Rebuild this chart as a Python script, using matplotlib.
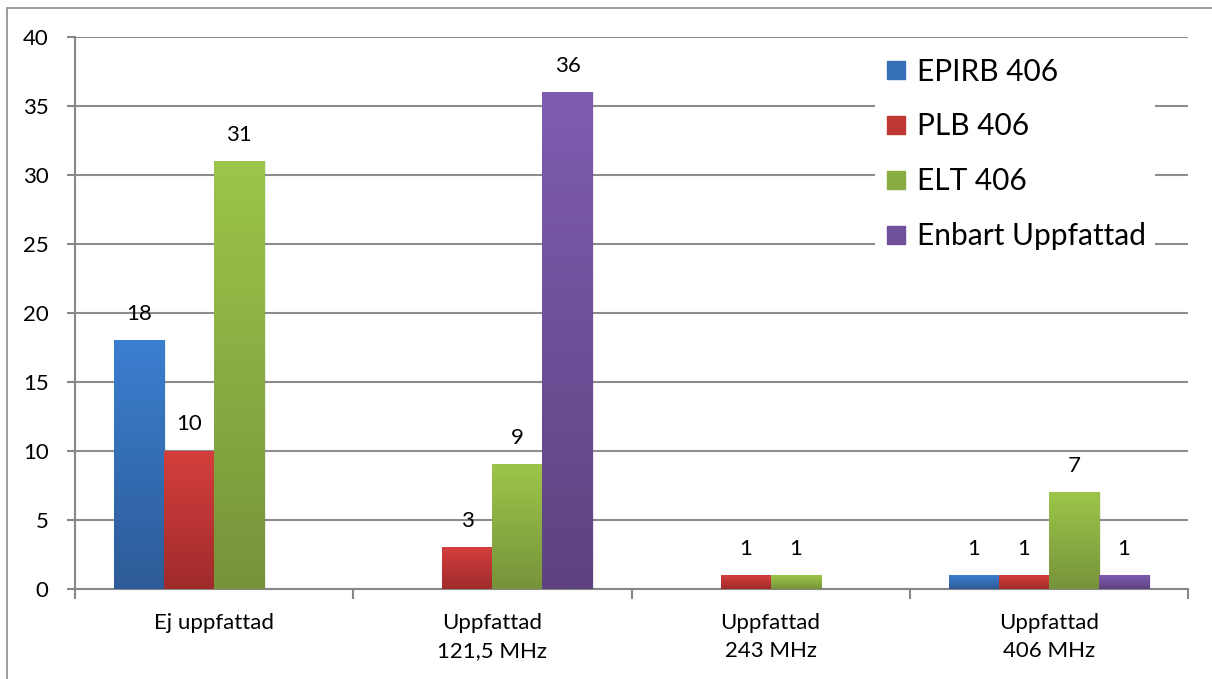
import matplotlib.pyplot as plt
import numpy as np
from matplotlib.colors import LinearSegmentedColormap
from matplotlib.lines import Line2D
from matplotlib.patches import Rectangle

# data
categories = ['Ej uppfattad', 'Uppfattad\n121,5 MHz', 'Uppfattad\n243 MHz', 'Uppfattad\n406 MHz']
series = ['EPIRB 406', 'PLB 406', 'ELT 406', 'Enbart Uppfattad']
epirb = [18, 0, 0, 1]
plb = [10, 3, 1, 1]
elt = [31, 9, 1, 7]
enbart = [0, 36, 0, 1]
values = [epirb, plb, elt, enbart]

# top / bottom colours of the gradient fill
tops = ['#3b7fd0', '#d43f3d', '#9cc649', '#7f5cb0']
bottoms = ['#2d5b97', '#a02b2b', '#77933b', '#5e4280']
mids = ['#3570b8', '#c03836', '#8aad43', '#70509a']

plt.rcParams['font.family'] = ['Lato', 'DejaVu Sans']

fig = plt.figure(figsize=(12.12, 6.79), dpi=100)
ax = fig.add_axes([75 / 1212, 90 / 679, 1113 / 1212, 552 / 679])

# frame around the chart
fig.patches.append(Rectangle((7 / 1212, -0.5), 2, 1.5 - 8 / 679, transform=fig.transFigure,
                             fill=False, edgecolor='#8c8c8c', linewidth=1.2, zorder=0))

width = 0.18
n = len(series)
x = np.arange(len(categories))
for i, vals in enumerate(values):
    cmap = LinearSegmentedColormap.from_list('g%d' % i, [bottoms[i], tops[i]])
    grad = np.linspace(0, 1, 256).reshape(-1, 1)
    for j, v in enumerate(vals):
        if v == 0:
            continue
        x0 = x[j] + (i - n / 2) * width
        # soft shadow
        ax.add_patch(Rectangle((x0 + 0.006, 0), width, v, facecolor='#000000', alpha=0.08,
                               linewidth=0, zorder=2))
        ax.imshow(grad, cmap=cmap, origin='lower', aspect='auto',
                  extent=[x0, x0 + width, 0, v], zorder=3, interpolation='bilinear')
        ax.text(x0 + width / 2, v + 1.2, str(v), ha='center', va='bottom', fontsize=16, zorder=4)

ax.set_xlim(-0.5, 3.5)
ax.set_ylim(0, 40)
ax.set_yticks(np.arange(0, 41, 5))
ax.set_xticks(np.arange(-0.5, 3.6, 1))
ax.set_xticklabels([])
ax.set_xticks(x, minor=True)
ax.set_xticklabels(categories, minor=True, fontsize=16, linespacing=1.5)
ax.tick_params(axis='x', which='minor', length=0, pad=17)
ax.tick_params(axis='x', which='major', length=7, width=1.5, color='#878787')
ax.tick_params(axis='y', length=6, width=1.5, color='#878787', pad=13, labelsize=16)
ax.yaxis.grid(True, color='#8c8c8c', linewidth=1.5, zorder=0)
ax.set_axisbelow(True)

for s in ['top', 'right']:
    ax.spines[s].set_visible(False)
for s in ['left', 'bottom']:
    ax.spines[s].set_color('#878787')
    ax.spines[s].set_linewidth(1.5)

handles = [Line2D([], [], marker='s', linestyle='none', markersize=13,
                  markerfacecolor=mids[i], markeredgecolor=mids[i]) for i in range(n)]
leg = ax.legend(handles, series, loc='upper left', bbox_to_anchor=(800 / 1113, 0.979),
                frameon=True, fontsize=21.5, labelspacing=0.9, handlelength=0.8,
                handletextpad=0.3, borderpad=0.3, borderaxespad=0)
leg.get_frame().set_facecolor('white')
leg.get_frame().set_edgecolor('none')
leg.get_frame().set_alpha(1)
leg.set_zorder(5)

plt.savefig('out.png', dpi=100)
